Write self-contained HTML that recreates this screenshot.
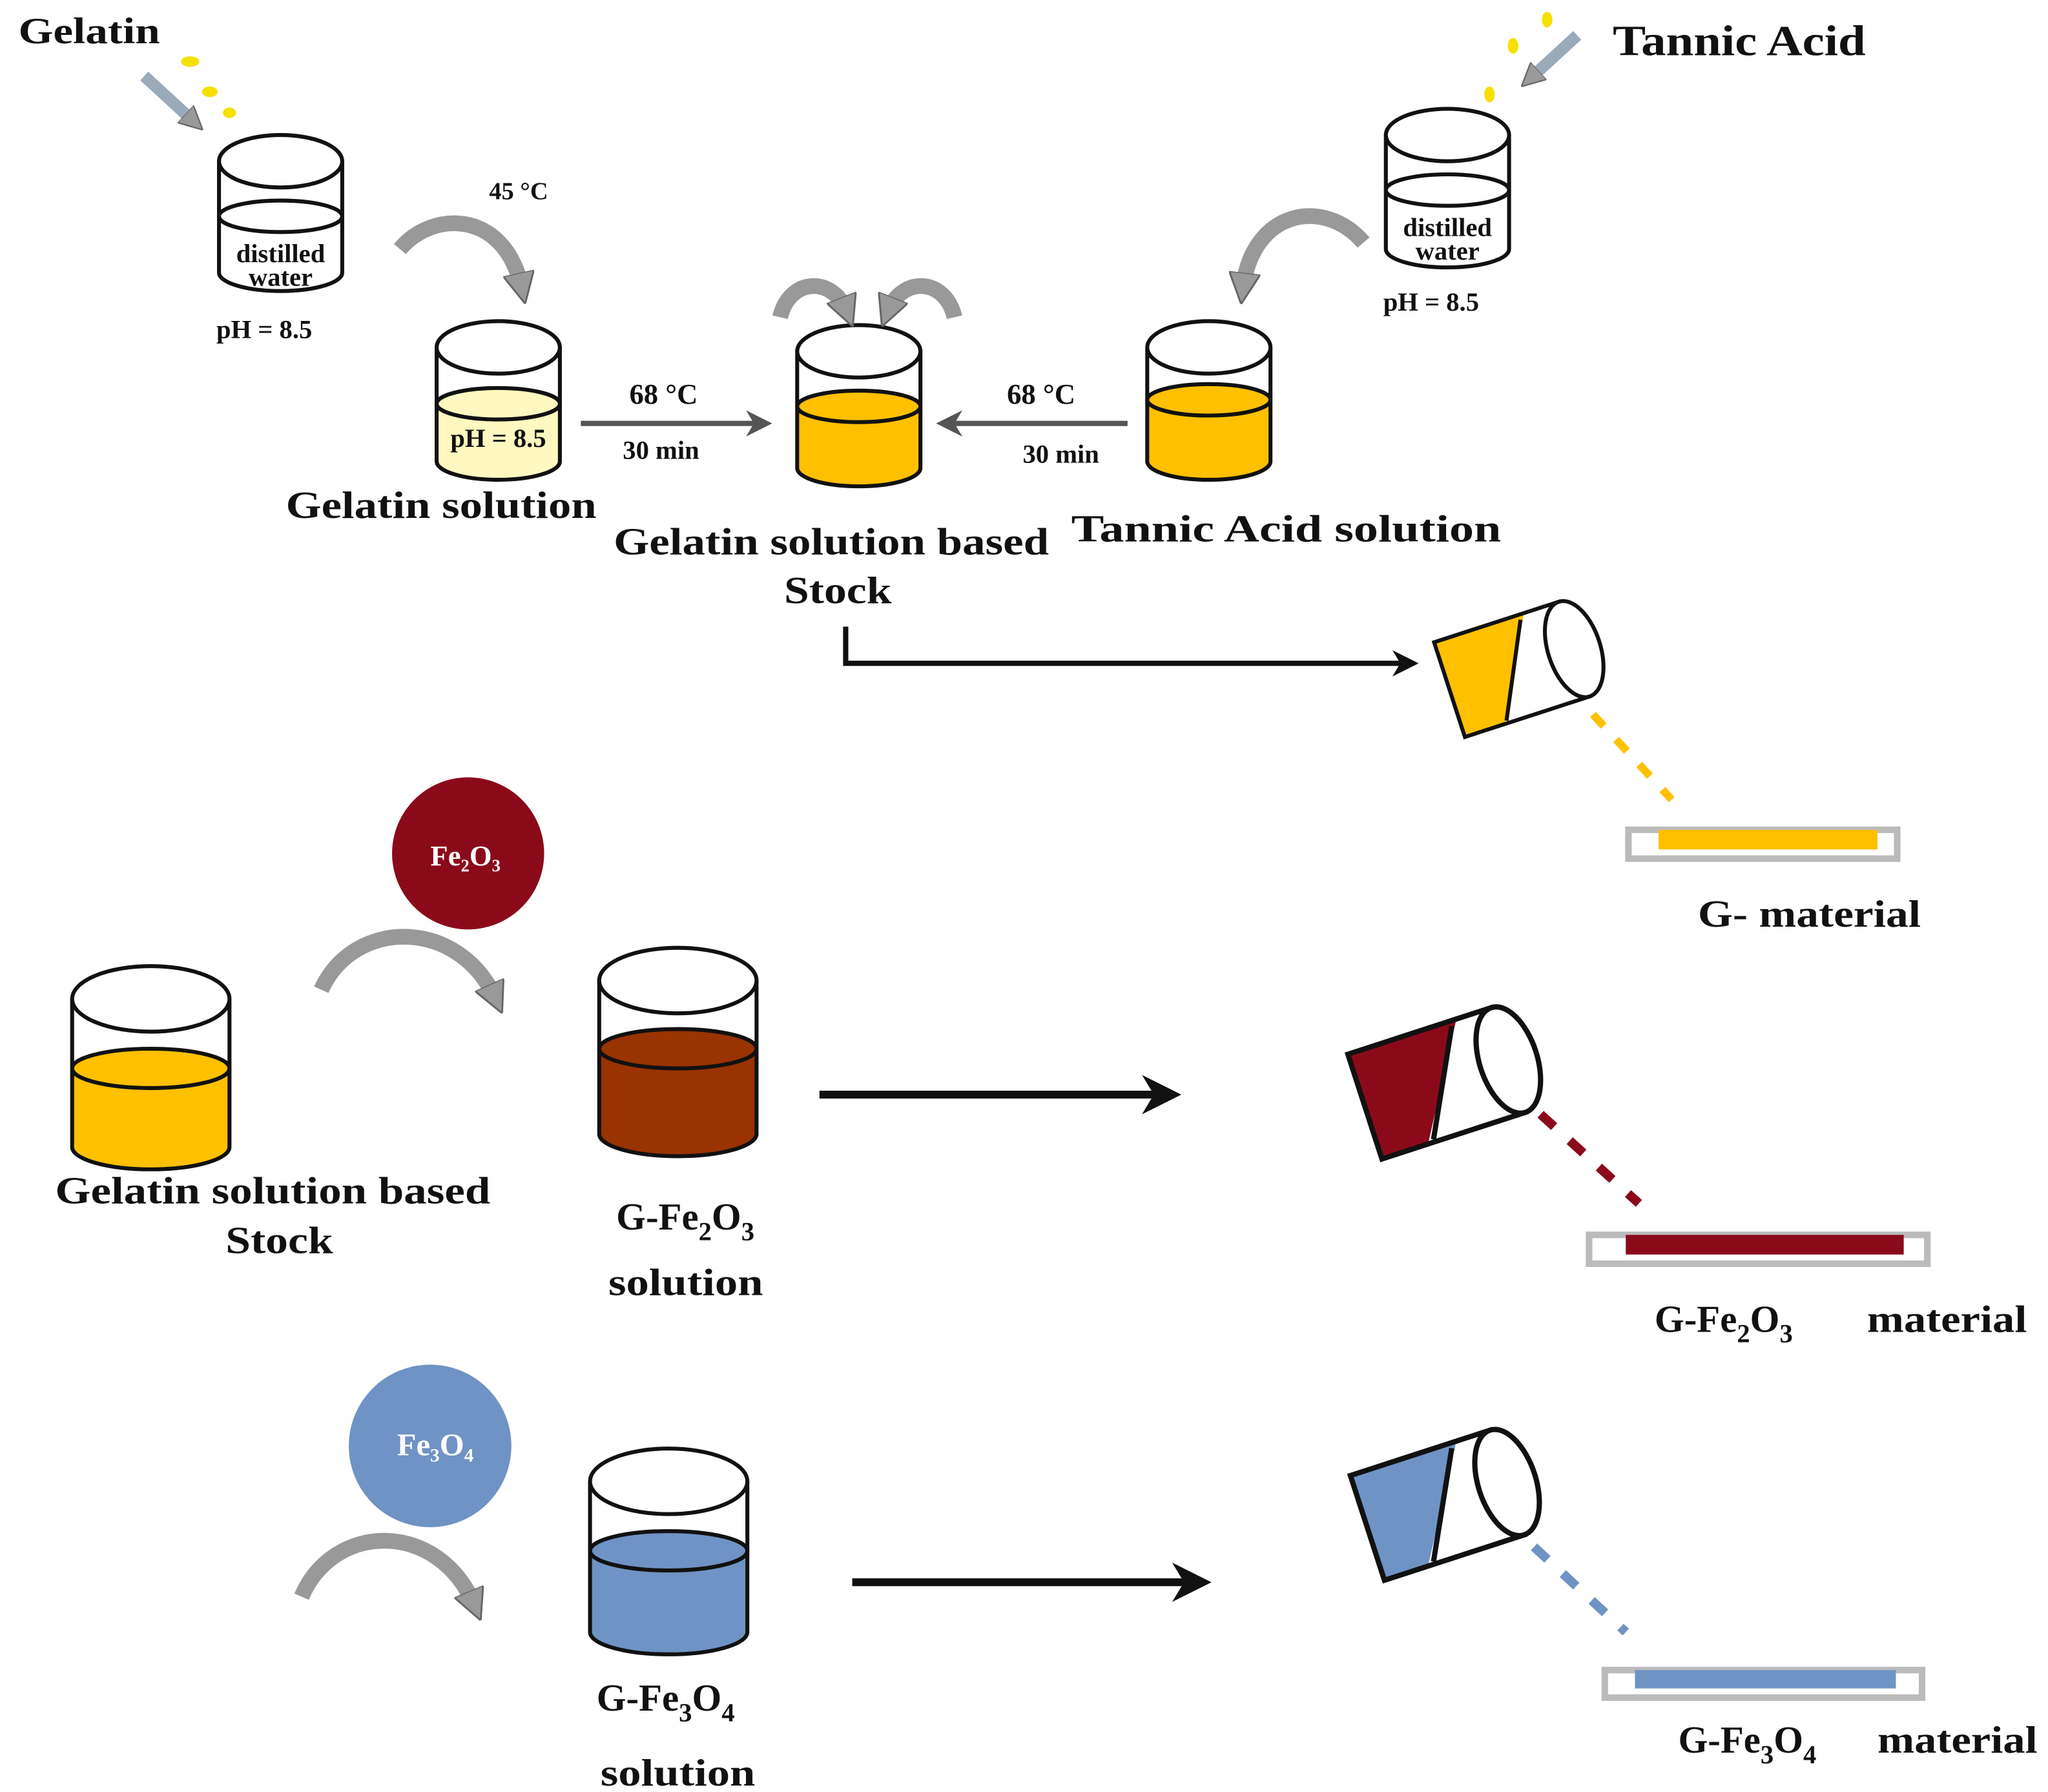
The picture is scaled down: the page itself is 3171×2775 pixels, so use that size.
<!DOCTYPE html>
<html><head><meta charset="utf-8"><style>
html,body{margin:0;padding:0;background:#fff}
svg{display:block}
text{font-family:"Liberation Serif",serif;font-weight:bold;fill:#111}
</style></head><body>
<svg width="3171" height="2775" viewBox="0 0 1562 1367" xmlns="http://www.w3.org/2000/svg">
<defs>
<marker id="gh" viewBox="0 0 10 10" refX="5" refY="5" markerWidth="2" markerHeight="2" orient="auto"><path d="M0,0 L10,5 L0,10 z" fill="#999" stroke="#666" stroke-width="0.6"/></marker>
<marker id="bh" viewBox="0 0 10 10" refX="8" refY="5" markerWidth="5" markerHeight="5" orient="auto"><path d="M0,0 L10,5 L0,10 L3,5 z" fill="#111"/></marker>
<marker id="gh2" viewBox="0 0 10 10" refX="8" refY="5" markerWidth="5" markerHeight="5" orient="auto"><path d="M0,0 L10,5 L0,10 L3,5 z" fill="#555"/></marker>
</defs>

<text x="14" y="33" font-size="28" textLength="108" lengthAdjust="spacingAndGlyphs">Gelatin</text>
<text x="1230" y="42" font-size="33" textLength="193" lengthAdjust="spacingAndGlyphs">Tannic Acid</text>
<g fill="#f5e000">
<ellipse cx="145" cy="47" rx="7" ry="4"/><ellipse cx="160" cy="70" rx="6" ry="4"/><ellipse cx="175" cy="86" rx="5" ry="4"/>
<ellipse cx="1180" cy="15" rx="4" ry="6"/><ellipse cx="1154" cy="35" rx="4" ry="6"/><ellipse cx="1136" cy="72" rx="4" ry="6"/>
</g>
<line x1="110" y1="58" x2="148" y2="93" stroke="#9ab" stroke-width="9" marker-end="url(#gh)"/>
<line x1="1203" y1="27" x2="1167" y2="60" stroke="#9ab" stroke-width="9" marker-end="url(#gh)"/>

<g stroke="#111" stroke-width="3" fill="none">
<path d="M167,123 V208 A47,14 0 0 0 261,208 V123" fill="#fff"/>
<ellipse cx="214" cy="123" rx="47" ry="20" fill="#fff"/>
<ellipse cx="214" cy="165" rx="47" ry="12"/>
<path d="M1057,103 V190 A47,14 0 0 0 1151,190 V103" fill="#fff"/>
<ellipse cx="1104" cy="103" rx="47" ry="20" fill="#fff"/>
<ellipse cx="1104" cy="145" rx="47" ry="12"/>
<path d="M333,308 V352 A47,14 0 0 0 427,352 V308 z" fill="#fff8c0" stroke="none"/>
<path d="M333,265 V352 A47,14 0 0 0 427,352 V265"/>
<ellipse cx="380" cy="265" rx="47" ry="20" fill="#fff"/>
<ellipse cx="380" cy="308" rx="47" ry="12" fill="#fff8c0"/>
<path d="M608,310 V357 A47,14 0 0 0 702,357 V310 z" fill="#ffc000" stroke="none"/>
<path d="M608,268 V357 A47,14 0 0 0 702,357 V268"/>
<ellipse cx="655" cy="268" rx="47" ry="20" fill="#fff"/>
<ellipse cx="655" cy="310" rx="47" ry="12" fill="#ffc000"/>
<path d="M875,305 V352 A47,14 0 0 0 969,352 V305 z" fill="#ffc000" stroke="none"/>
<path d="M875,265 V352 A47,14 0 0 0 969,352 V265"/>
<ellipse cx="922" cy="265" rx="47" ry="20" fill="#fff"/>
<ellipse cx="922" cy="305" rx="47" ry="12" fill="#ffc000"/>
<path d="M55,815 V875 A60,17 0 0 0 175,875 V815 z" fill="#ffc000" stroke="none"/>
<path d="M55,762 V875 A60,17 0 0 0 175,875 V762"/>
<ellipse cx="115" cy="762" rx="60" ry="25" fill="#fff"/>
<ellipse cx="115" cy="815" rx="60" ry="15" fill="#ffc000"/>
<path d="M457,800 V865 A60,17 0 0 0 577,865 V800 z" fill="#993300" stroke="none"/>
<path d="M457,748 V865 A60,17 0 0 0 577,865 V748"/>
<ellipse cx="517" cy="748" rx="60" ry="25" fill="#fff"/>
<ellipse cx="517" cy="800" rx="60" ry="15" fill="#993300"/>
<path d="M450,1183 V1245 A60,17 0 0 0 570,1245 V1183 z" fill="#6f93c4" stroke="none"/>
<path d="M450,1130 V1245 A60,17 0 0 0 570,1245 V1130"/>
<ellipse cx="510" cy="1130" rx="60" ry="25" fill="#fff"/>
<ellipse cx="510" cy="1183" rx="60" ry="15" fill="#6f93c4"/>
</g>

<g font-size="20" text-anchor="middle">
<text x="214" y="200">distilled</text><text x="214" y="218">water</text>
<text x="1104" y="180">distilled</text><text x="1104" y="198">water</text>
<text x="380" y="341">pH = 8.5</text>
</g>
<text x="165" y="258" font-size="20">pH = 8.5</text>
<text x="1055" y="237" font-size="20">pH = 8.5</text>
<text x="373" y="152" font-size="19">45 °C</text>

<g stroke="#999" stroke-width="12" fill="none" marker-end="url(#gh)">
<path d="M305,190 C330,160 385,160 398,220"/>
<path d="M1040,185 C1010,150 955,160 948,220"/>
<path d="M595,242 C602,212 635,210 646,238"/>
<path d="M728,242 C721,212 688,210 677,238"/>
<path d="M245,755 C270,700 350,700 378,762"/>
<path d="M230,1218 C255,1160 335,1160 362,1225"/>
</g>

<line x1="443" y1="323" x2="585" y2="323" stroke="#555" stroke-width="4" marker-end="url(#gh2)"/>
<line x1="860" y1="323" x2="718" y2="323" stroke="#555" stroke-width="4" marker-end="url(#gh2)"/>
<text x="480" y="308" font-size="22">68 °C</text>
<text x="475" y="350" font-size="20" font-weight="normal">30 min</text>
<text x="768" y="308" font-size="22">68 °C</text>
<text x="780" y="353" font-size="20" font-weight="normal">30 min</text>

<g font-size="29">
<text x="218" y="395" textLength="237" lengthAdjust="spacingAndGlyphs">Gelatin solution</text>
<text x="468" y="423" textLength="332" lengthAdjust="spacingAndGlyphs">Gelatin solution based</text>
<text x="598" y="460" textLength="82" lengthAdjust="spacingAndGlyphs">Stock</text>
<text x="817" y="413" textLength="328" lengthAdjust="spacingAndGlyphs">Tannic Acid solution</text>
<text x="42" y="918" textLength="332" lengthAdjust="spacingAndGlyphs">Gelatin solution based</text>
<text x="172" y="956" textLength="82" lengthAdjust="spacingAndGlyphs">Stock</text>
<text x="470" y="938">G-Fe<tspan font-size="20" dy="8">2</tspan><tspan dy="-8">O</tspan><tspan font-size="20" dy="8">3</tspan></text>
<text x="464" y="988" textLength="118" lengthAdjust="spacingAndGlyphs">solution</text>
<text x="455" y="1305">G-Fe<tspan font-size="20" dy="8">3</tspan><tspan dy="-8">O</tspan><tspan font-size="20" dy="8">4</tspan></text>
<text x="458" y="1362" textLength="118" lengthAdjust="spacingAndGlyphs">solution</text>
<text x="1295" y="707" textLength="170" lengthAdjust="spacingAndGlyphs">G- material</text>
<text x="1262" y="1016">G-Fe<tspan font-size="20" dy="8">2</tspan><tspan dy="-8">O</tspan><tspan font-size="20" dy="8">3</tspan></text>
<text x="1424" y="1016" textLength="122" lengthAdjust="spacingAndGlyphs">material</text>
<text x="1280" y="1337">G-Fe<tspan font-size="20" dy="8">3</tspan><tspan dy="-8">O</tspan><tspan font-size="20" dy="8">4</tspan></text>
<text x="1432" y="1337" textLength="122" lengthAdjust="spacingAndGlyphs">material</text>
</g>

<path d="M645,478 V506 H1078" stroke="#111" stroke-width="4" fill="none" marker-end="url(#bh)"/>
<line x1="625" y1="835" x2="895" y2="835" stroke="#111" stroke-width="6" marker-end="url(#bh)"/>
<line x1="650" y1="1207" x2="918" y2="1207" stroke="#111" stroke-width="6" marker-end="url(#bh)"/>

<circle cx="357" cy="651" r="58" fill="#8b0a1a"/>
<text x="355" y="660" font-size="22" text-anchor="middle" style="fill:#fff">Fe₂O₃</text>
<circle cx="328" cy="1103" r="62" fill="#6f93c4"/>
<text x="332" y="1110" font-size="24" text-anchor="middle" style="fill:#fff" font-weight="normal">Fe₃O₄</text>

<g transform="translate(1155,510) rotate(-18)">
<path d="M-52,-38 L20,-38 L-20,38 L-52,38 z" fill="#ffc000"/>
<rect x="-52" y="-38" width="100" height="76" fill="none" stroke="#111" stroke-width="3"/>
<ellipse cx="48" cy="0" rx="20" ry="38" fill="#fff" stroke="#111" stroke-width="3"/>
<line x1="16" y1="-34" x2="-18" y2="36" stroke="#111" stroke-width="3"/>
</g>
<path d="M1215,545 L1275,610" stroke="#ffc000" stroke-width="6" stroke-dasharray="12,14" fill="none"/>
<g transform="translate(1100,825) rotate(-18)">
<path d="M-62,-42 L25,-42 L-25,42 L-62,42 z" fill="#8b0a1a"/>
<rect x="-62" y="-42" width="115" height="84" fill="none" stroke="#111" stroke-width="4"/>
<ellipse cx="53" cy="0" rx="22" ry="42" fill="#fff" stroke="#111" stroke-width="4"/>
<line x1="20" y1="-38" x2="-20" y2="40" stroke="#111" stroke-width="4"/>
</g>
<path d="M1175,850 L1250,918" stroke="#8b0a1a" stroke-width="7" stroke-dasharray="14,16" fill="none"/>
<g transform="translate(1100,1147) rotate(-18)">
<path d="M-60,-42 L25,-42 L-25,42 L-60,42 z" fill="#6f93c4"/>
<rect x="-60" y="-42" width="112" height="84" fill="none" stroke="#111" stroke-width="4"/>
<ellipse cx="52" cy="0" rx="22" ry="42" fill="#fff" stroke="#111" stroke-width="4"/>
<line x1="20" y1="-38" x2="-20" y2="40" stroke="#111" stroke-width="4"/>
</g>
<path d="M1170,1180 L1240,1245" stroke="#6f93c4" stroke-width="7" stroke-dasharray="14,16" fill="none"/>

<rect x="1242" y="633" width="205" height="22" fill="#fff" stroke="#bbb" stroke-width="5"/>
<rect x="1265" y="633" width="167" height="15" fill="#ffc000"/>
<rect x="1212" y="942" width="258" height="22" fill="#fff" stroke="#bbb" stroke-width="5"/>
<rect x="1240" y="942" width="212" height="15" fill="#8b0a1a"/>
<rect x="1224" y="1274" width="242" height="21" fill="#fff" stroke="#bbb" stroke-width="5"/>
<rect x="1247" y="1274" width="199" height="14" fill="#6f93c4"/>
</svg>
</body></html>
